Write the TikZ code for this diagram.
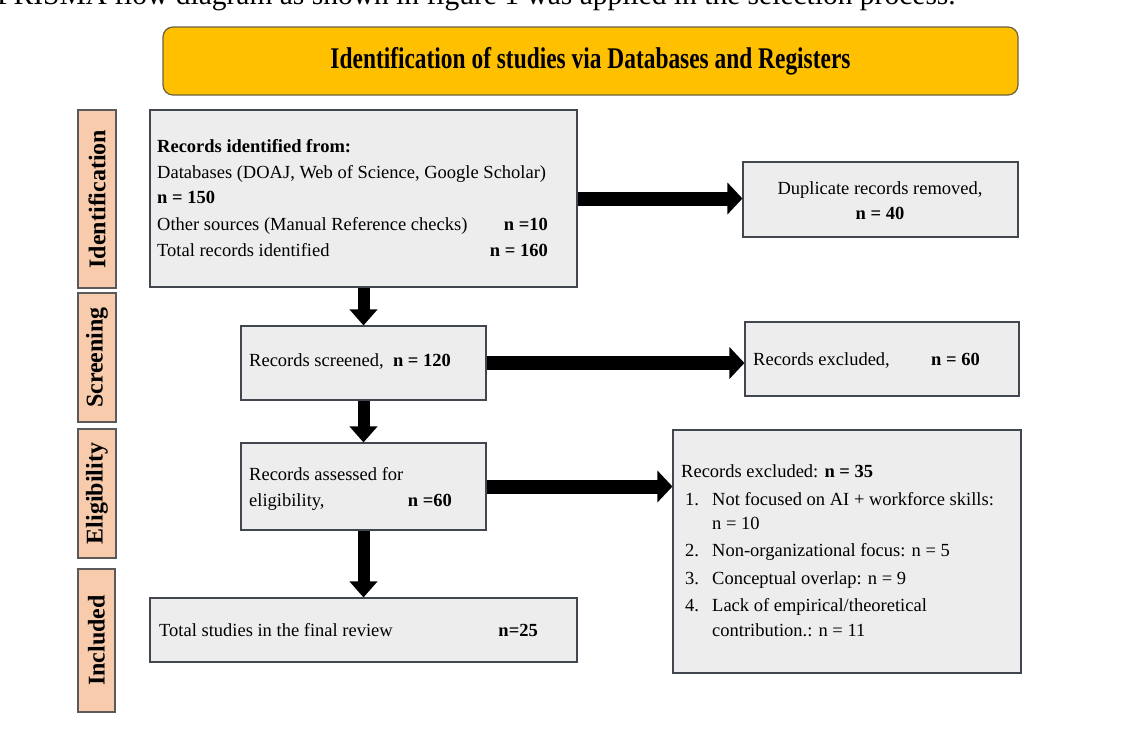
\documentclass[tikz,border=0pt]{standalone}
\usepackage{fontspec}
\setmainfont{Liberation Serif}
\newfontfamily\titlefont{Liberation Serif}[FakeStretch=0.78]
\usetikzlibrary{arrows.meta,fit}
\definecolor{boxfill}{HTML}{EDEDED}
\definecolor{boxline}{HTML}{42464F}
\definecolor{labfill}{HTML}{F8CBAD}
\definecolor{labline}{HTML}{5A5A5A}
\definecolor{titfill}{HTML}{FFC000}
\definecolor{titline}{HTML}{6B6140}
\tikzset{
  box/.style={draw=boxline, fill=boxfill, line width=1.1pt, inner sep=0pt},
  lab/.style={draw=labline, fill=labfill, line width=1.1pt, inner sep=0pt},
  txt/.style={inner sep=0pt, anchor=base west, font=\fontsize{18.5}{22}\selectfont},
  txtr/.style={txt, anchor=base east},
  txtc/.style={txt, anchor=base},
  labtxt/.style={inner sep=0pt, rotate=90, font=\fontsize{24}{24}\selectfont\bfseries},
  varr/.style={line width=12pt, -{Triangle[length=16pt,width=27pt]}, black},
  harr/.style={line width=14pt, -{Triangle[length=15pt,width=31pt]}, black},
}
\begin{document}
\begin{tikzpicture}[x=1pt,y=-1pt]
\useasboundingbox (0,0) rectangle (1132,731);
% clipped paragraph line at the top
\node[inner sep=0pt, anchor=base west, font=\fontsize{29.5}{30}\selectfont] (para) at (-3,4.5) {PRISMA flow diagram as shown in figure 1 was applied in the selection process.};
% title
\node[draw=titline, fill=titfill, line width=1.2pt, rounded corners=10pt, inner sep=0pt, fit={(163,27) (1018,95)}] (title) {};
\node[inner sep=0pt, font=\titlefont\fontsize{30}{30}\selectfont\bfseries] (titletxt) at (title.center) {Identification of studies via Databases and Registers};
% side labels
\node[lab, fit={(78,110) (116,288)}] (l1) {};
\node[labtxt] (l1t) at (l1.center) {Identification};
\node[lab, fit={(78,293) (116,422)}] (l2) {};
\node[labtxt] (l2t) at (l2.center) {Screening};
\node[lab, fit={(78,429) (116,558)}] (l3) {};
\node[labtxt] (l3t) at (l3.center) {Eligibility};
\node[lab, fit={(78,569) (115,712)}] (l4) {};
\node[labtxt] (l4t) at (l4.center) {Included};
% main boxes
\node[box, fit={(150,110) (577,287)}] (b1) {};
\node[box, fit={(241,326) (486,400)}] (b2) {};
\node[box, fit={(241,443) (486,530)}] (b3) {};
\node[box, fit={(150,598) (577,662)}] (b4) {};
\node[box, fit={(743,162) (1018,237)}] (d1) {};
\node[box, fit={(745,322) (1019,396)}] (e1) {};
\node[box, fit={(673,430) (1021,673)}] (e2) {};
% box 1 text
\node[txt] (b1a) at (157,152.5) {\textbf{Records identified from:}};
\node[txt] (b1b) at (157,178.5) {Databases (DOAJ, Web of Science, Google Scholar)};
\node[txt] (b1c) at (157,203.5) {\textbf{n = 150}};
\node[txt] (b1d) at (157,230.5) {Other sources (Manual Reference checks)};
\node[txtr] (b1e) at (548,230.5) {\textbf{n =10}};
\node[txt] (b1f) at (157,256.5) {Total records identified};
\node[txtr] (b1g) at (548,256.5) {\textbf{n = 160}};
% box 2
\node[txt] (b2a) at (249,366) {Records screened,\ \ \textbf{n = 120}};
% box 3
\node[txt] (b3a) at (249,480) {Records assessed for};
\node[txt] (b3b) at (249,506) {eligibility,};
\node[txtr] (b3c) at (452,506) {\textbf{n =60}};
% box 4
\node[txt] (b4a) at (159,636) {Total studies in the final review};
\node[txtr] (b4b) at (538,636) {\textbf{n=25}};
% duplicates
\node[txtc] (d1a) at (880,194) {Duplicate records removed,};
\node[txtc] (d1b) at (880,219) {\textbf{n = 40}};
% excluded 1
\node[txt] (e1a) at (753,365) {Records excluded,};
\node[txtr] (e1b) at (980,365) {\textbf{n = 60}};
% excluded 2
\node[txt] (e2a) at (681,477) {Records excluded: \textbf{n = 35}};
\node[txt] (e2n1) at (685,505) {1.};
\node[txt] (e2i1) at (712,505) {Not focused on AI + workforce skills:};
\node[txt] (e2i1b) at (712,529) {n = 10};
\node[txt] (e2n2) at (685,556) {2.};
\node[txt] (e2i2) at (712,556) {Non-organizational focus: n = 5};
\node[txt] (e2n3) at (685,584) {3.};
\node[txt] (e2i3) at (712,584) {Conceptual overlap: n = 9};
\node[txt] (e2n4) at (685,611) {4.};
\node[txt] (e2i4) at (712,611) {Lack of empirical/theoretical};
\node[txt] (e2i4b) at (712,636) {contribution.: n = 11};
% arrows
\draw[varr] (b1.south) -- (b2.north);
\draw[varr] (b2.south) -- (b3.north);
\draw[varr] (b3.south) -- (b4.north);
\draw[harr] (b1.east) -- (b1.east -| d1.west);
\draw[harr] (b2.east) -- (b2.east -| e1.west);
\draw[harr] (b3.east) -- (b3.east -| e2.west);
\end{tikzpicture}
\end{document}
